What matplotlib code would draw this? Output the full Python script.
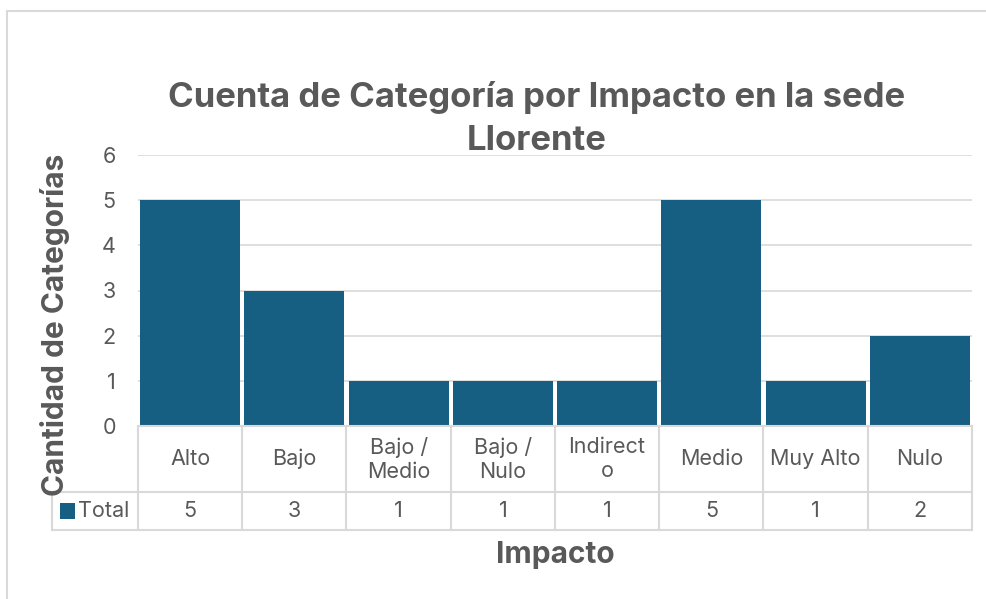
#!/usr/bin/env python

import matplotlib.pyplot as plt
import matplotlib.transforms as mtransforms
from matplotlib.patches import Rectangle

categories = ["Alto", "Bajo", "Bajo /\nMedio", "Bajo /\nNulo", "Indirect\no",
              "Medio", "Muy Alto", "Nulo"]
totals = [5, 3, 1, 1, 1, 5, 1, 2]
yticks = [0, 1, 2, 3, 4, 5, 6]

BAR = "#175F82"
TXT = "#595959"
GRID = "#D9D9D9"
FS = 15.5

plt.rcParams['font.family'] = ['Inter', 'DejaVu Sans']

W, H = 987, 599
fig = plt.figure(figsize=(W / 100, H / 100), dpi=100)
ax = fig.add_axes([138 / W, (H - 426) / H, (972 - 138) / W, (426 - 155) / H])

x = list(range(len(categories)))
ax.bar(x, totals, width=0.96, color=BAR, zorder=2)
ax.set_xlim(-0.5, len(categories) - 0.5)
ax.set_ylim(0, 6)
ax.set_yticks(yticks)
ax.set_yticklabels([str(v) for v in yticks], fontsize=FS, color=TXT)
ax.tick_params(axis='y', length=0, pad=16)
ax.set_xticks([])
ax.yaxis.grid(True, color=GRID, linewidth=1.2, zorder=0)
for s in ax.spines.values():
    s.set_visible(False)

# data table under the plot
tr = mtransforms.blended_transform_factory(ax.transData, ax.transAxes)
ph = 426 - 155
r1 = -66 / ph
r2 = -104 / ph
xl = -0.5 - 86 * len(categories) / 834
n = len(categories)
lk = dict(color=GRID, linewidth=1.5, transform=tr, clip_on=False)
ax.plot([-0.5, n - 0.5], [0, 0], **lk)
ax.plot([xl, n - 0.5], [r1, r1], **lk)
ax.plot([xl, n - 0.5], [r2, r2], **lk)
ax.plot([xl, xl], [r1, r2], **lk)
for b in range(n + 1):
    ax.plot([b - 0.5, b - 0.5], [0, r2], **lk)
for i, (c, v) in enumerate(zip(categories, totals)):
    ax.text(i, r1 / 2, c, transform=tr, ha='center', va='center',
            fontsize=FS, color=TXT, linespacing=1.25)
    ax.text(i, (r1 + r2) / 2, str(v), transform=tr, ha='center', va='center',
            fontsize=FS, color=TXT)
ax.add_patch(Rectangle((xl + 0.08, (r1 + r2) / 2 - 0.03), 0.14, 0.06,
                       facecolor=BAR, transform=tr, clip_on=False))
ax.text(xl + 0.25, (r1 + r2) / 2, "Total", transform=tr, ha='left',
        va='center', fontsize=FS, color=TXT)

fig.text(537 / W, 1 - 97 / H, "Cuenta de Categoría por Impacto en la sede",
         ha='center', va='center', fontsize=25, fontweight='bold', color=TXT)
fig.text(537 / W, 1 - 141 / H, "Llorente",
         ha='center', va='center', fontsize=25, fontweight='bold', color=TXT)
fig.text(55 / W, 1 - 325 / H, "Cantidad de Categorías", rotation=90,
         ha='center', va='center', fontsize=21.5, fontweight='bold', color=TXT)
fig.text(555 / W, 1 - 555 / H, "Impacto", ha='center', va='center',
         fontsize=21.5, fontweight='bold', color=TXT)

fig.patches.append(Rectangle((6.5 / W, -0.1), 1.2, 1.1 - 11.5 / H,
                             transform=fig.transFigure, fill=False,
                             edgecolor=GRID, linewidth=1.5))

fig.savefig("out.png", dpi=100)
